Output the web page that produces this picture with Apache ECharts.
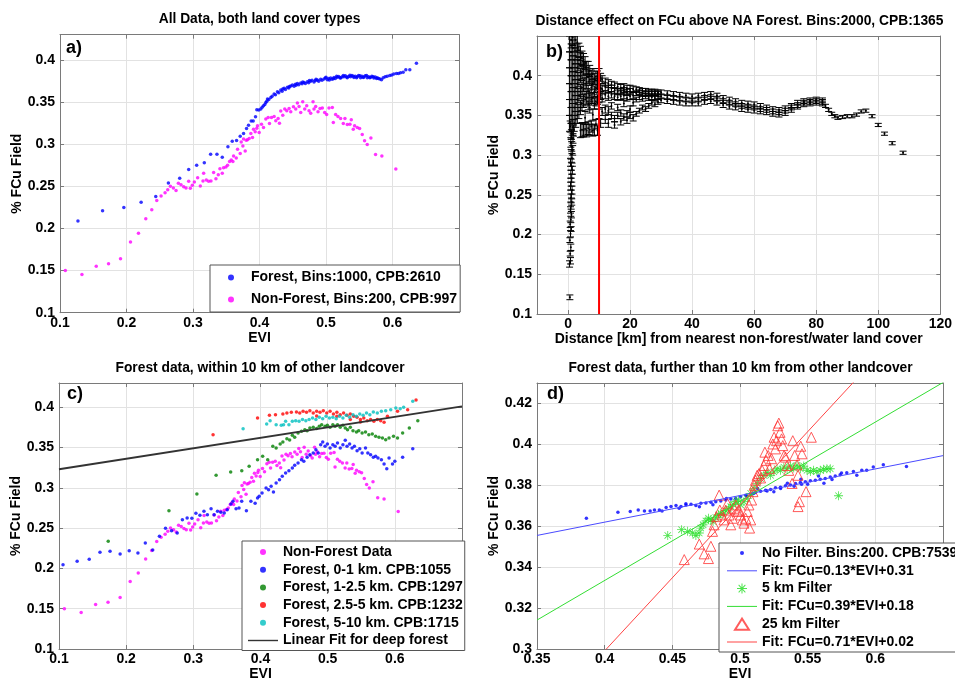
<!DOCTYPE html>
<html><head><meta charset="utf-8">
<script src="https://cdn.jsdelivr.net/npm/echarts/dist/echarts.min.js"></script>
<style>html,body{margin:0;padding:0;background:#fff}#c{width:955px;height:682px}</style>
</head><body><div id="c"></div>
<script>
// ---------------- DATA ----------------
// Panel a) / c): EVI vs %FCu
const forestAll = [[0.127,0.209],[0.164,0.221],[0.196,0.225],[0.222,0.231],[0.244,0.238],[0.263,0.254],[0.280,0.2595],[0.2935,0.270],[0.3055,0.275],[0.317,0.278],[0.3265,0.288],[0.336,0.288],[0.344,0.2845],[0.3525,0.297],[0.359,0.3036],[0.3655,0.3044],[0.371,0.3095],[0.376,0.3127],[0.3805,0.3187],[0.3835,0.3226],[0.3875,0.3277],[0.3905,0.3277],[0.394,0.3325],[0.396,0.341],[0.399,0.3405],[0.402,0.3417],[0.404,0.3440],[0.406,0.3456],[0.408,0.3470],[0.4095,0.3496],[0.411,0.3510],[0.412,0.3536],[0.414,0.3530],[0.417,0.3556],[0.419,0.3570],[0.422,0.3595],[0.424,0.3588],[0.427,0.3623],[0.429,0.3610],[0.432,0.3643],[0.434,0.3630],[0.435,0.3655],[0.437,0.3663],[0.439,0.3650],[0.442,0.3675],[0.444,0.3668],[0.445,0.3685],[0.447,0.3690],[0.4495,0.3702],[0.452,0.3688],[0.454,0.3712],[0.455,0.3700],[0.457,0.3722],[0.459,0.3705],[0.462,0.3728],[0.464,0.3718],[0.465,0.3740],[0.467,0.3734],[0.469,0.3722],[0.472,0.3742],[0.474,0.3730],[0.475,0.3755],[0.477,0.3746],[0.479,0.3758],[0.482,0.3740],[0.484,0.3755],[0.485,0.3770],[0.487,0.3762],[0.489,0.3748],[0.492,0.3770],[0.494,0.3760],[0.497,0.3774],[0.499,0.3785],[0.500,0.3795],[0.502,0.3765],[0.504,0.3780],[0.505,0.3762],[0.507,0.3786],[0.509,0.3772],[0.511,0.3778],[0.512,0.3792],[0.514,0.3780],[0.516,0.3808],[0.517,0.3794],[0.519,0.3805],[0.521,0.3790],[0.522,0.3785],[0.524,0.3798],[0.526,0.3815],[0.527,0.3802],[0.529,0.3812],[0.531,0.3798],[0.532,0.3790],[0.534,0.3805],[0.536,0.3818],[0.537,0.3802],[0.539,0.3815],[0.541,0.3806],[0.542,0.3792],[0.544,0.3808],[0.546,0.3790],[0.547,0.3802],[0.549,0.3816],[0.551,0.3812],[0.552,0.3790],[0.554,0.3806],[0.556,0.3792],[0.557,0.3798],[0.559,0.3812],[0.561,0.3815],[0.562,0.3788],[0.564,0.3802],[0.566,0.3790],[0.567,0.3794],[0.569,0.3808],[0.571,0.3802],[0.572,0.3785],[0.574,0.3798],[0.576,0.3780],[0.577,0.3790],[0.579,0.3780],[0.581,0.3774],[0.5835,0.3766],[0.586,0.3790],[0.589,0.3800],[0.592,0.3806],[0.596,0.3815],[0.599,0.3822],[0.602,0.3833],[0.606,0.3840],[0.609,0.3838],[0.612,0.3849],[0.616,0.3855],[0.620,0.3885],[0.626,0.3885],[0.636,0.396]];

const nonForest = [[0.108,0.150],[0.133,0.1452],[0.1545,0.1552],[0.173,0.158],[0.191,0.164],[0.206,0.1838],[0.218,0.1944],[0.229,0.2115],[0.238,0.2222],[0.2455,0.2333],[0.252,0.2385],[0.258,0.2425],[0.262,0.2460],[0.266,0.250],[0.2705,0.248],[0.2745,0.2452],[0.278,0.2536],[0.282,0.252],[0.286,0.2496],[0.2895,0.248],[0.2935,0.256],[0.296,0.2476],[0.299,0.2512],[0.302,0.2552],[0.307,0.2603],[0.311,0.2504],[0.315,0.2563],[0.316,0.2655],[0.320,0.2575],[0.3235,0.256],[0.327,0.2563],[0.331,0.2663],[0.3345,0.2591],[0.338,0.2639],[0.3405,0.271],[0.344,0.2655],[0.346,0.2722],[0.3495,0.273],[0.352,0.275],[0.355,0.2794],[0.3575,0.2813],[0.360,0.2794],[0.361,0.2861],[0.365,0.2837],[0.367,0.294],[0.371,0.2889],[0.3725,0.3027],[0.375,0.298],[0.376,0.3063],[0.3785,0.292],[0.380,0.3048],[0.382,0.3052],[0.3845,0.3068],[0.387,0.3127],[0.3895,0.308],[0.391,0.3179],[0.3935,0.3147],[0.396,0.319],[0.397,0.3218],[0.3995,0.314],[0.403,0.3238],[0.406,0.3199],[0.4095,0.3298],[0.413,0.3318],[0.415,0.3246],[0.418,0.3318],[0.422,0.333],[0.4245,0.3278],[0.428,0.3306],[0.430,0.325],[0.432,0.3393],[0.435,0.3345],[0.438,0.3417],[0.441,0.3397],[0.4445,0.3425],[0.447,0.3385],[0.451,0.3444],[0.4545,0.3417],[0.457,0.3488],[0.4595,0.3448],[0.462,0.3377],[0.465,0.3504],[0.468,0.3417],[0.471,0.3456],[0.4745,0.3397],[0.477,0.3369],[0.4805,0.3504],[0.482,0.3417],[0.4845,0.3448],[0.488,0.3385],[0.491,0.3425],[0.4945,0.343],[0.498,0.3377],[0.501,0.3353],[0.5045,0.343],[0.5095,0.3437],[0.511,0.3258],[0.5145,0.3353],[0.518,0.333],[0.522,0.3306],[0.526,0.3246],[0.5285,0.3306],[0.532,0.3234],[0.536,0.3238],[0.538,0.329],[0.541,0.3179],[0.543,0.3218],[0.547,0.3199],[0.5505,0.3187],[0.5545,0.3115],[0.558,0.304],[0.562,0.2996],[0.5675,0.3075],[0.5745,0.2877],[0.584,0.2861],[0.605,0.2706]];

const forest0to1 = [[0.106,0.2046],[0.127,0.2088],[0.145,0.2113],[0.161,0.220],[0.176,0.2212],[0.191,0.2179],[0.2045,0.222],[0.2175,0.2191],[0.2285,0.2315],[0.2395,0.2228],[0.2495,0.2398],[0.2586,0.2497],[0.2676,0.2468],[0.276,0.2439],[0.2837,0.2604],[0.2908,0.2625],[0.2978,0.2621],[0.3038,0.2683],[0.3098,0.2659],[0.3158,0.2709],[0.3209,0.2666],[0.3264,0.2741],[0.3309,0.2666],[0.336,0.2709],[0.341,0.2696],[0.346,0.2687],[0.3505,0.2728],[0.356,0.2799],[0.359,0.2832],[0.3636,0.2741],[0.368,0.275],[0.372,0.2832],[0.379,0.2716],[0.3857,0.2832],[0.392,0.2808],[0.3956,0.2873],[0.398,0.2895],[0.4023,0.2935],[0.4083,0.2997],[0.412,0.2977],[0.4158,0.3019],[0.4193,0.2948],[0.4233,0.306],[0.4283,0.310],[0.4324,0.3143],[0.4374,0.3184],[0.4423,0.3212],[0.4474,0.3246],[0.4509,0.3279],[0.4559,0.3308],[0.461,0.3349],[0.4645,0.3329],[0.4694,0.3378],[0.4735,0.3411],[0.4785,0.3432],[0.4825,0.3473],[0.486,0.3432],[0.4896,0.3535],[0.4926,0.3568],[0.4961,0.3515],[0.4996,0.3543],[0.5036,0.3494],[0.5077,0.3535],[0.5111,0.3515],[0.5146,0.3556],[0.5187,0.3494],[0.5227,0.3535],[0.5262,0.3589],[0.5288,0.3515],[0.5327,0.3543],[0.5363,0.3494],[0.5398,0.3515],[0.5438,0.346],[0.5478,0.3485],[0.5513,0.3432],[0.5563,0.3494],[0.5598,0.3432],[0.5639,0.3411],[0.568,0.3378],[0.5714,0.339],[0.5749,0.3369],[0.580,0.3349],[0.584,0.3295],[0.588,0.3237],[0.5914,0.3369],[0.5965,0.3295],[0.600,0.3329],[0.6116,0.3378],[0.6267,0.3485]];

const forest1to2p5 = [[0.1733,0.2336],[0.2637,0.2716],[0.3053,0.2923],[0.3339,0.3155],[0.3556,0.3196],[0.3721,0.3212],[0.3831,0.3267],[0.3956,0.3349],[0.4032,0.3391],[0.4107,0.3349],[0.4183,0.3515],[0.4233,0.3494],[0.4293,0.3543],[0.4333,0.3568],[0.4393,0.3609],[0.4434,0.3593],[0.4474,0.3651],[0.4509,0.3627],[0.4559,0.368],[0.461,0.3701],[0.466,0.3721],[0.4694,0.3709],[0.4735,0.3742],[0.4785,0.3751],[0.4836,0.3734],[0.4875,0.3763],[0.4911,0.3783],[0.4961,0.3763],[0.4996,0.3776],[0.5036,0.3751],[0.5077,0.3783],[0.5111,0.3763],[0.5146,0.3783],[0.5187,0.3751],[0.5227,0.3776],[0.5262,0.3742],[0.5296,0.3721],[0.5337,0.3751],[0.5377,0.3709],[0.5428,0.3692],[0.5462,0.3709],[0.5513,0.368],[0.5563,0.3692],[0.5613,0.3659],[0.5664,0.3667],[0.5714,0.3639],[0.5764,0.3627],[0.5815,0.3618],[0.5864,0.3597],[0.5914,0.3618],[0.598,0.3639],[0.604,0.3618],[0.6116,0.368],[0.6216,0.3742],[0.6342,0.3833]];

const forest2p5to5 = [[0.3294,0.3659],[0.3956,0.3866],[0.4133,0.390],[0.4223,0.3907],[0.4333,0.3916],[0.4393,0.3928],[0.4459,0.3937],[0.4535,0.3941],[0.4584,0.3928],[0.4634,0.3949],[0.4685,0.3937],[0.4735,0.3957],[0.4785,0.3928],[0.4836,0.3949],[0.4836,0.3891],[0.4886,0.3937],[0.4935,0.3957],[0.4986,0.3928],[0.5036,0.3949],[0.5086,0.3916],[0.5137,0.3937],[0.5137,0.3887],[0.5187,0.3907],[0.5237,0.3928],[0.5288,0.390],[0.5337,0.3916],[0.5337,0.3846],[0.5387,0.3887],[0.5438,0.3875],[0.5488,0.3846],[0.5488,0.3817],[0.5538,0.3866],[0.5589,0.3833],[0.5639,0.3846],[0.5688,0.3825],[0.5739,0.3846],[0.5789,0.3833],[0.584,0.3813],[0.589,0.3887],[0.604,0.3949],[0.6191,0.3969],[0.6316,0.4089]];

const forest5to10 = [[0.3741,0.3733],[0.4092,0.3792],[0.4143,0.3833],[0.4233,0.3783],[0.4309,0.3776],[0.4343,0.3783],[0.4374,0.3825],[0.4423,0.3783],[0.4474,0.3825],[0.4524,0.3833],[0.4574,0.3825],[0.4625,0.3846],[0.4675,0.3833],[0.4724,0.3846],[0.4775,0.3866],[0.4825,0.3846],[0.4875,0.3875],[0.4926,0.3858],[0.4976,0.3887],[0.5026,0.3866],[0.5077,0.3875],[0.5127,0.3858],[0.5176,0.3887],[0.5227,0.3866],[0.5277,0.390],[0.5327,0.3875],[0.5377,0.3907],[0.5428,0.3887],[0.5478,0.3916],[0.5528,0.390],[0.5578,0.3928],[0.5628,0.3907],[0.568,0.3941],[0.5739,0.3928],[0.580,0.3949],[0.5864,0.3957],[0.5939,0.3969],[0.6015,0.399],[0.608,0.3981],[0.6131,0.3999],[0.6267,0.4073]];

const deepForestFit = [0.13, 0.31]; // slope, intercept

// Panel b): distance [km], mean %FCu, error half-width
const distSpike = [[0.6,0.121,0.003],[0.5,0.163,0.004],[0.8,0.167,0.004],[0.7,0.176,0.003],[0.9,0.184,0.004],[0.6,0.193,0.003],[0.8,0.201,0.004],[1.0,0.207,0.003],[0.7,0.213,0.004],[0.9,0.219,0.004],[1.1,0.225,0.004],[0.8,0.231,0.004],[1.0,0.236,0.004],[1.2,0.241,0.004],[0.9,0.246,0.005],[1.1,0.251,0.005],[1.3,0.256,0.005],[0.8,0.261,0.005],[1.0,0.266,0.005],[1.2,0.271,0.005],[0.9,0.276,0.005],[1.4,0.281,0.005],[1.1,0.286,0.005],[0.8,0.291,0.005],[1.3,0.296,0.006],[1.0,0.301,0.006],[1.5,0.306,0.006],[1.2,0.311,0.006],[0.9,0.316,0.006],[1.6,0.321,0.006],[1.1,0.326,0.006],[1.8,0.331,0.007],[0.7,0.336,0.007]];
const distGroups = [
[0.5,[0.34,0.36,0.38,0.40,0.42,0.44],0.01],[1.0,[0.33,0.35,0.37,0.39,0.41,0.43,0.445],0.01],[1.5,[0.335,0.355,0.375,0.395,0.415,0.435,0.448],0.01],[2.0,[0.34,0.36,0.38,0.40,0.42,0.44],0.01],[2.5,[0.345,0.365,0.385,0.405,0.425,0.445],0.01],[3.0,[0.35,0.37,0.39,0.41,0.43,0.442],0.01],[3.5,[0.355,0.375,0.395,0.415,0.432],0.009],[4.0,[0.331,0.36,0.38,0.40,0.42,0.428],0.009],[4.5,[0.332,0.365,0.385,0.405,0.422],0.009],[5.0,[0.331,0.368,0.388,0.408,0.42],0.008],[5.5,[0.333,0.347,0.37,0.39,0.41,0.416],0.008],[6.0,[0.331,0.372,0.392,0.41],0.008],[6.5,[0.334,0.365,0.38,0.398,0.41],0.008],[7.0,[0.332,0.36,0.375,0.395,0.406],0.007],[7.5,[0.336,0.37,0.385,0.40],0.007],[8.0,[0.331,0.351,0.372,0.39,0.402],0.007],[8.5,[0.332,0.365,0.38,0.396],0.007],[9.0,[0.339,0.368,0.385,0.399],0.006],[9.5,[0.331,0.37,0.388,0.40],0.006],
[10,[0.352,0.372,0.39,0.403],0.006],[10.5,[0.34,0.375,0.385,0.398],0.005],[11,[0.355,0.372,0.383,0.395],0.005],[12,[0.345,0.358,0.376,0.386,0.392],0.005],[13,[0.34,0.356,0.374,0.383,0.39],0.005],[14,[0.35,0.362,0.376,0.384,0.389],0.004],[15,[0.338,0.346,0.374,0.381,0.388],0.004],[16,[0.35,0.36,0.373,0.38,0.386],0.004],[17,[0.342,0.353,0.374,0.38,0.385],0.004],[18,[0.348,0.365,0.375,0.381,0.386],0.004],[19,[0.344,0.352,0.372,0.379,0.384],0.004],[20,[0.35,0.358,0.374,0.38,0.384],0.004],[21,[0.347,0.366,0.375,0.383],0.004],[22,[0.352,0.37,0.378,0.383],0.003],[23,[0.356,0.373,0.379,0.382],0.003],[24,[0.36,0.371,0.378,0.381],0.003],[25,[0.358,0.374,0.377,0.381],0.003],[26,[0.362,0.372,0.378,0.38],0.003],[27,[0.366,0.373,0.377,0.38],0.003],[28,[0.364,0.372,0.378,0.38],0.003],[29,[0.367,0.374,0.377,0.379],0.003],
[30,[0.369,0.374,0.379],0.003],[32,[0.368,0.373,0.378],0.003],[34,[0.367,0.372,0.377],0.003],[36,[0.366,0.371,0.376],0.003],[38,[0.365,0.370,0.375],0.003],[40,[0.365,0.369,0.374],0.003],[42,[0.365,0.370,0.375],0.003],[44,[0.367,0.372,0.376],0.003],[46,[0.368,0.373,0.377],0.003],[48,[0.366,0.371,0.375],0.003],[50,[0.363,0.368,0.372],0.003],[52,[0.361,0.366,0.370],0.003],[54,[0.360,0.364,0.368],0.003],[56,[0.358,0.362,0.366],0.003],[58,[0.357,0.361,0.365],0.003],[60,[0.356,0.360,0.364],0.003],[62,[0.355,0.358,0.362],0.003],[64,[0.354,0.357,0.360],0.003],[66,[0.352,0.355,0.358],0.003],[68,[0.351,0.354,0.357],0.003],[70,[0.353,0.356,0.359],0.003],[72,[0.357,0.360,0.362],0.003],[74,[0.361,0.363,0.366],0.003],[76,[0.364,0.366,0.368],0.003],[78,[0.365,0.367,0.369],0.003],[80,[0.366,0.368,0.370],0.003],[82,[0.365,0.367,0.369],0.003],
[83,[0.362],0.002],[84,[0.357],0.002],[85,[0.352],0.002],[86,[0.349],0.002],[87,[0.347],0.002],[88.5,[0.348],0.002],[90,[0.349],0.002],[91.5,[0.349],0.002],[93,[0.351],0.002],[94.5,[0.355],0.002],[96,[0.356],0.002],[98,[0.349],0.002],[100,[0.338],0.002],[102,[0.327],0.002],[104.5,[0.315],0.002],[108,[0.303],0.002]];
const distanceCutoffKm = 10;

// Panel d)
const noFilter = [[0.3865,0.3639],[0.4098,0.3668],[0.4189,0.3672],[0.4248,0.3679],[0.4294,0.3675],[0.4336,0.3675],[0.4368,0.3679],[0.4404,0.3679],[0.4424,0.3675],[0.4454,0.3691],[0.449,0.3696],[0.4527,0.3701],[0.455,0.3688],[0.4564,0.3696],[0.46,0.371],[0.4601,0.3704],[0.4638,0.3707],[0.4674,0.3701],[0.47,0.3695],[0.4711,0.3712],[0.4748,0.3713],[0.48,0.3705],[0.4785,0.3717],[0.4821,0.372],[0.4858,0.3723],[0.49,0.3735],[0.4895,0.3728],[0.4932,0.3733],[0.4968,0.3736],[0.5005,0.3744],[0.505,0.3745],[0.5042,0.3752],[0.5079,0.3755],[0.51,0.376],[0.5115,0.3765],[0.513,0.3785],[0.5152,0.3771],[0.5189,0.3776],[0.52,0.3772],[0.5226,0.378],[0.525,0.3768],[0.5262,0.3788],[0.5299,0.3791],[0.53,0.3785],[0.5336,0.3798],[0.535,0.381],[0.5373,0.3801],[0.54,0.3795],[0.541,0.3809],[0.545,0.383],[0.5446,0.3814],[0.5455,0.3805],[0.5483,0.3817],[0.55,0.3805],[0.552,0.3822],[0.5557,0.3825],[0.558,0.3845],[0.5593,0.383],[0.562,0.381],[0.563,0.3833],[0.5667,0.3841],[0.568,0.3828],[0.5704,0.3846],[0.574,0.3852],[0.575,0.386],[0.5789,0.3861],[0.5838,0.3868],[0.5863,0.3849],[0.590,0.3873],[0.5936,0.3873],[0.5985,0.389],[0.6059,0.390],[0.623,0.3892]];

const filter5km = [[0.4466,0.3555],[0.4568,0.3583],[0.4613,0.3575],[0.4649,0.3567],[0.4674,0.3555],[0.4699,0.3567],[0.471,0.3591],[0.4728,0.3607],[0.4748,0.3626],[0.4767,0.3639],[0.4785,0.3631],[0.4801,0.3623],[0.4821,0.3643],[0.4841,0.3655],[0.4858,0.3663],[0.4875,0.3659],[0.4895,0.3675],[0.4914,0.3684],[0.4932,0.3696],[0.4949,0.3707],[0.4968,0.372],[0.4988,0.3728],[0.5005,0.3704],[0.5029,0.372],[0.5054,0.3736],[0.5079,0.376],[0.5103,0.3784],[0.5127,0.3809],[0.5152,0.3833],[0.5176,0.3849],[0.5201,0.3862],[0.5226,0.3849],[0.525,0.3866],[0.5274,0.3881],[0.5299,0.3873],[0.5324,0.3889],[0.5348,0.3881],[0.5373,0.3894],[0.5397,0.3884],[0.5421,0.3897],[0.5446,0.3881],[0.5471,0.3894],[0.5495,0.3873],[0.552,0.3868],[0.5544,0.3873],[0.5568,0.3868],[0.5593,0.3873],[0.5618,0.3878],[0.5642,0.3881],[0.5667,0.3881],[0.5728,0.3749]];

const filter25km = [[0.4588,0.3437],[0.4699,0.3513],[0.4735,0.3465],[0.4767,0.3442],[0.4785,0.3502],[0.4797,0.3575],[0.4809,0.3607],[0.4826,0.3647],[0.4846,0.3752],[0.4851,0.3679],[0.4865,0.3655],[0.4882,0.3631],[0.4895,0.3679],[0.4907,0.3712],[0.4919,0.3655],[0.4932,0.3607],[0.4944,0.3639],[0.4956,0.3688],[0.4968,0.3704],[0.498,0.3672],[0.4993,0.3679],[0.5005,0.3655],[0.5017,0.3631],[0.5029,0.3615],[0.5042,0.3639],[0.5054,0.3672],[0.5066,0.3704],[0.5071,0.3591],[0.5079,0.3631],[0.5086,0.3728],[0.5096,0.3769],[0.5105,0.380],[0.5115,0.3825],[0.5127,0.3849],[0.514,0.3857],[0.5152,0.3836],[0.5164,0.3873],[0.5176,0.3897],[0.5184,0.3962],[0.5193,0.3922],[0.5208,0.3946],[0.5218,0.3881],[0.5233,0.393],[0.5243,0.4002],[0.5252,0.4035],[0.5262,0.3978],[0.527,0.4018],[0.5279,0.4091],[0.5287,0.4104],[0.5296,0.4059],[0.5307,0.4027],[0.5316,0.3994],[0.5326,0.3946],[0.5336,0.3938],[0.5348,0.3897],[0.536,0.3873],[0.5385,0.3809],[0.539,0.4018],[0.5404,0.3946],[0.5421,0.390],[0.5429,0.3849],[0.5439,0.372],[0.5429,0.3696],[0.5449,0.3991],[0.5458,0.3954],[0.5488,0.3769],[0.5527,0.4035]];

const fitNoFilter = [0.13, 0.31];
const fit5km = [0.387, 0.1787];
const fit25km = [0.714, 0.0135];

// ---------------- CHART ----------------
const FONT = 'Liberation Sans';
const GRID_C = '#e2e2e2';
const BOX_C = '#7a7a7a';
const txt = {fontFamily: FONT, fontWeight: 'bold', fontSize: 14, color: '#000'};

function fitLine(coef, x0, x1) { return [[x0, coef[0]*x0 + coef[1]], [x1, coef[0]*x1 + coef[1]]]; }

function mainX(g, min, max, o) {
  return Object.assign({type:'value', gridIndex:g, min, max, position:'bottom',
    axisLine:{show:true, onZero:false, lineStyle:{color:BOX_C}},
    axisTick:{show:true, inside:true, length:4, lineStyle:{color:BOX_C}},
    splitLine:{show:true, lineStyle:{color:GRID_C}},
    axisLabel:Object.assign({margin:3, showMaxLabel:false}, txt),
    nameLocation:'middle', nameGap:18, nameTextStyle:txt}, o);
}
function topX(g, min, max, o) {
  return Object.assign({type:'value', gridIndex:g, min, max, position:'top',
    axisLine:{show:true, onZero:false, lineStyle:{color:BOX_C}},
    axisTick:{show:true, inside:true, length:4, lineStyle:{color:BOX_C}},
    splitLine:{show:false}, axisLabel:{show:false}}, o);
}
function mainY(g, min, max, o) {
  return Object.assign({type:'value', gridIndex:g, min, max, position:'left',
    axisLine:{show:true, onZero:false, lineStyle:{color:BOX_C}},
    axisTick:{show:true, inside:true, length:4, lineStyle:{color:BOX_C}},
    splitLine:{show:true, lineStyle:{color:GRID_C}},
    axisLabel:Object.assign({margin:5, showMaxLabel:false}, txt),
    name:'% FCu Field', nameLocation:'middle', nameRotate:90, nameGap:35, nameTextStyle:txt}, o);
}
function rightY(g, min, max, o) {
  return Object.assign({type:'value', gridIndex:g, min, max, position:'right',
    axisLine:{show:true, onZero:false, lineStyle:{color:BOX_C}},
    axisTick:{show:true, inside:true, length:4, lineStyle:{color:BOX_C}},
    splitLine:{show:false}, axisLabel:{show:false}}, o);
}

const bFlat = distSpike.slice();
distGroups.forEach(g => g[1].forEach(v => bFlat.push([g[0], v, g[2]])));

const bAxisX = {minInterval:20, maxInterval:20, splitNumber:6};
const xAxes = [
  mainX(0, 0.1, 0.7, {interval:0.1, name:'EVI'}), topX(0, 0.1, 0.7, {interval:0.1}),
  mainX(1, -10, 120, Object.assign({name:'Distance [km] from nearest non-forest/water land cover',
     axisLabel:Object.assign({margin:3, showMinLabel:false, showMaxLabel:true,
       formatter: v => (Math.abs(v % 20) < 1e-9 ? String(Math.round(v) || 0) : '')}, txt)}, bAxisX)),
  topX(1, -10, 120, bAxisX),
  mainX(2, 0.1, 0.7, {interval:0.1, name:'EVI'}), topX(2, 0.1, 0.7, {interval:0.1}),
  mainX(3, 0.35, 0.65, {interval:0.05, name:'EVI'}), topX(3, 0.35, 0.65, {interval:0.05})
];
const yAxes = [
  mainY(0, 0.1, 0.43, {interval:0.05}), rightY(0, 0.1, 0.43, {interval:0.05}),
  mainY(1, 0.1, 0.45, {interval:0.05}), rightY(1, 0.1, 0.45, {interval:0.05}),
  mainY(2, 0.1, 0.43, {interval:0.05}), rightY(2, 0.1, 0.43, {interval:0.05}),
  mainY(3, 0.3, 0.43, {interval:0.02}), rightY(3, 0.3, 0.43, {interval:0.02})
];

const starPath = 'path://M4.55,0 h0.9 v10 h-0.9 Z M0,4.55 h10 v0.9 h-10 Z M1.15,1.78 L1.78,1.15 L8.85,8.22 L8.22,8.85 Z M8.22,1.15 L8.85,1.78 L1.78,8.85 L1.15,8.22 Z';
// legend icons, drawn inside a 30 x 12 (or 30 x 6) frame
const iconDotA = 'path://M0,0 M30,6 M12,3 a3,3 0 1,0 6,0 a3,3 0 1,0 -6,0 Z';
const iconDotD = 'path://M0,0 M30,12 M13,6 a2,2 0 1,0 4,0 a2,2 0 1,0 -4,0 Z';
const iconLineD = 'path://M0,0 M30,12 M0,5.5 L30,5.5 L30,6.5 L0,6.5 Z';
const iconTriD = 'path://M0,0 M30,12 M8,11.5 L15,0.5 L22,11.5 Z';
const iconStarD = 'path://M0,0 M30,12 M14.5,1 h1 v10 h-1 Z M10,5.5 h10 v1 h-10 Z M11.3,2.6 L12,1.9 L18.7,9.4 L18,10.1 Z M18,1.9 L18.7,2.6 L12,10.1 L11.3,9.4 Z';
const iconLineC = 'path://M0,0 M30,6 M0,2.3 L30,2.3 L30,3.7 L0,3.7 Z';

const legendBase = {orient:'vertical', selectedMode:false, backgroundColor:'#fff',
  borderColor:'#555', borderWidth:1, borderRadius:0, textStyle:Object.assign({lineHeight:15}, txt)};

const titleFont = 'bold 13.8px "Liberation Sans"';
const letterFont = 'bold 18px "Liberation Sans"';

const option = {
  animation:false,
  backgroundColor:'#fff',
  grid:[
    {left:60, top:34.7, width:399, height:278},
    {left:537, top:36, width:405, height:278},
    {left:59, top:383, width:403, height:268},
    {left:537, top:383, width:406, height:269}
  ],
  xAxis:xAxes, yAxis:yAxes,
  legend:[
    Object.assign({}, legendBase, {left:210, top:265, itemWidth:30, itemHeight:6, itemGap:7,
      padding:[5,3,5,6], data:[{name:'Forest, Bins:1000, CPB:2610', icon:iconDotA},
      {name:'Non-Forest, Bins:200, CPB:997', icon:iconDotA}]}),
    Object.assign({}, legendBase, {left:242, top:541, itemWidth:30, itemHeight:6, itemGap:2.7,
      padding:[3.5,2,2.5,6], data:['Non-Forest Data','Forest, 0-1 km. CPB:1055','Forest, 1-2.5 km. CPB:1297',
      'Forest, 2.5-5 km. CPB:1232','Forest, 5-10 km. CPB:1715',{name:'Linear Fit for deep forest', icon:iconLineC}]}),
    Object.assign({}, legendBase, {left:719, top:543, itemWidth:30, itemHeight:12, itemGap:2.8,
      padding:[2.5,4,2.5,7], data:[{name:'No Filter. Bins:200. CPB:7539', icon:iconDotD},
      {name:'Fit: FCu=0.13*EVI+0.31', icon:iconLineD},{name:'5 km Filter', icon:iconStarD},
      {name:'Fit: FCu=0.39*EVI+0.18', icon:iconLineD},{name:'25 km Filter', icon:iconTriD},
      {name:'Fit: FCu=0.71*EVI+0.02', icon:iconLineD}]})
  ],
  graphic:[
    {type:'text', x:259.5, y:19, style:{text:'All Data, both land cover types', textAlign:'center', textVerticalAlign:'middle', fill:'#000', font:titleFont}},
    {type:'text', x:739.5, y:21, style:{text:'Distance effect on FCu above NA Forest. Bins:2000, CPB:1365', textAlign:'center', textVerticalAlign:'middle', fill:'#000', font:titleFont}},
    {type:'text', x:260, y:368, style:{text:'Forest data, within 10 km of other landcover', textAlign:'center', textVerticalAlign:'middle', fill:'#000', font:titleFont}},
    {type:'text', x:740.5, y:368, style:{text:'Forest data, further than 10 km from other landcover', textAlign:'center', textVerticalAlign:'middle', fill:'#000', font:titleFont}},
    {type:'text', x:66, y:48, style:{text:'a)', textVerticalAlign:'middle', fill:'#000', font:letterFont}},
    {type:'text', x:546, y:52, style:{text:'b)', textVerticalAlign:'middle', fill:'#000', font:letterFont}},
    {type:'text', x:67, y:394, style:{text:'c)', textVerticalAlign:'middle', fill:'#000', font:letterFont}},
    {type:'text', x:547, y:394, style:{text:'d)', textVerticalAlign:'middle', fill:'#000', font:letterFont}}
  ],
  series:[
    // a
    {type:'scatter', name:'Forest, Bins:1000, CPB:2610', xAxisIndex:0, yAxisIndex:0, data:forestAll, symbolSize:3.5, itemStyle:{color:'#0000ff'}},
    {type:'scatter', name:'Non-Forest, Bins:200, CPB:997', xAxisIndex:0, yAxisIndex:0, data:nonForest, symbolSize:3.5, itemStyle:{color:'#ff00ff'}},
    // b
    {type:'custom', name:'distance', xAxisIndex:2, yAxisIndex:2, data:bFlat, clip:true, encode:{x:0, y:1},
     renderItem:function(params, api){
       const x = api.value(0), y = api.value(1), e = api.value(2);
       const t = api.coord([x, y + e]), b = api.coord([x, y - e]), c = api.coord([x, y]);
       const hw = 3.5, st = {stroke:'#000', lineWidth:1};
       return {type:'group', children:[
         {type:'line', shape:{x1:t[0], y1:t[1], x2:b[0], y2:b[1]}, style:st},
         {type:'line', shape:{x1:t[0]-hw, y1:t[1], x2:t[0]+hw, y2:t[1]}, style:st},
         {type:'line', shape:{x1:b[0]-hw, y1:b[1], x2:b[0]+hw, y2:b[1]}, style:st},
         {type:'circle', shape:{cx:c[0], cy:c[1], r:1}, style:{fill:'#000'}}
       ]};
     }},
    {type:'line', name:'cutoff', xAxisIndex:2, yAxisIndex:2, symbol:'none',
     data:[[distanceCutoffKm, 0.1],[distanceCutoffKm, 0.45]], lineStyle:{color:'#ff0000', width:2}},
    // c
    {type:'scatter', name:'Non-Forest Data', xAxisIndex:4, yAxisIndex:4, data:nonForest, symbolSize:3.5, itemStyle:{color:'#ff00ff'}},
    {type:'scatter', name:'Forest, 0-1 km. CPB:1055', xAxisIndex:4, yAxisIndex:4, data:forest0to1, symbolSize:3.5, itemStyle:{color:'#0000ff'}},
    {type:'scatter', name:'Forest, 1-2.5 km. CPB:1297', xAxisIndex:4, yAxisIndex:4, data:forest1to2p5, symbolSize:3.5, itemStyle:{color:'#008000'}},
    {type:'scatter', name:'Forest, 2.5-5 km. CPB:1232', xAxisIndex:4, yAxisIndex:4, data:forest2p5to5, symbolSize:3.5, itemStyle:{color:'#ff0000'}},
    {type:'scatter', name:'Forest, 5-10 km. CPB:1715', xAxisIndex:4, yAxisIndex:4, data:forest5to10, symbolSize:3.5, itemStyle:{color:'#00bfbf'}},
    {type:'line', name:'Linear Fit for deep forest', xAxisIndex:4, yAxisIndex:4, symbol:'none',
     data:fitLine(deepForestFit, 0.1, 0.7), lineStyle:{color:'#333', width:1.8}, itemStyle:{color:'#333'}},
    // d
    {type:'scatter', name:'No Filter. Bins:200. CPB:7539', xAxisIndex:6, yAxisIndex:6, data:noFilter, symbolSize:3.5, itemStyle:{color:'#0000ff'}},
    {type:'line', name:'Fit: FCu=0.13*EVI+0.31', xAxisIndex:6, yAxisIndex:6, symbol:'none',
     data:fitLine(fitNoFilter, 0.35, 0.65), lineStyle:{color:'#4a4aff', width:1}, itemStyle:{color:'#4a4aff'}},
    {type:'scatter', name:'5 km Filter', xAxisIndex:6, yAxisIndex:6, data:filter5km, symbol:starPath, symbolSize:9, itemStyle:{color:'#22dd22'}},
    {type:'line', name:'Fit: FCu=0.39*EVI+0.18', xAxisIndex:6, yAxisIndex:6, symbol:'none',
     data:fitLine(fit5km, 0.35, 0.65), lineStyle:{color:'#33dd33', width:1}, itemStyle:{color:'#33dd33'}},
    {type:'scatter', name:'25 km Filter', xAxisIndex:6, yAxisIndex:6, data:filter25km, symbol:'triangle', symbolSize:10,
     itemStyle:{color:'rgba(255,255,255,0)', borderColor:'#ff3333', borderWidth:1}},
    {type:'line', name:'Fit: FCu=0.71*EVI+0.02', xAxisIndex:6, yAxisIndex:6, symbol:'none',
     data:fitLine(fit25km, 0.35, 0.65), lineStyle:{color:'#ff4444', width:1}, itemStyle:{color:'#ff4444'}}
  ]
};
const chart = echarts.init(document.getElementById('c'), null, {renderer:'canvas'});
chart.setOption(option);
</script></body></html>
